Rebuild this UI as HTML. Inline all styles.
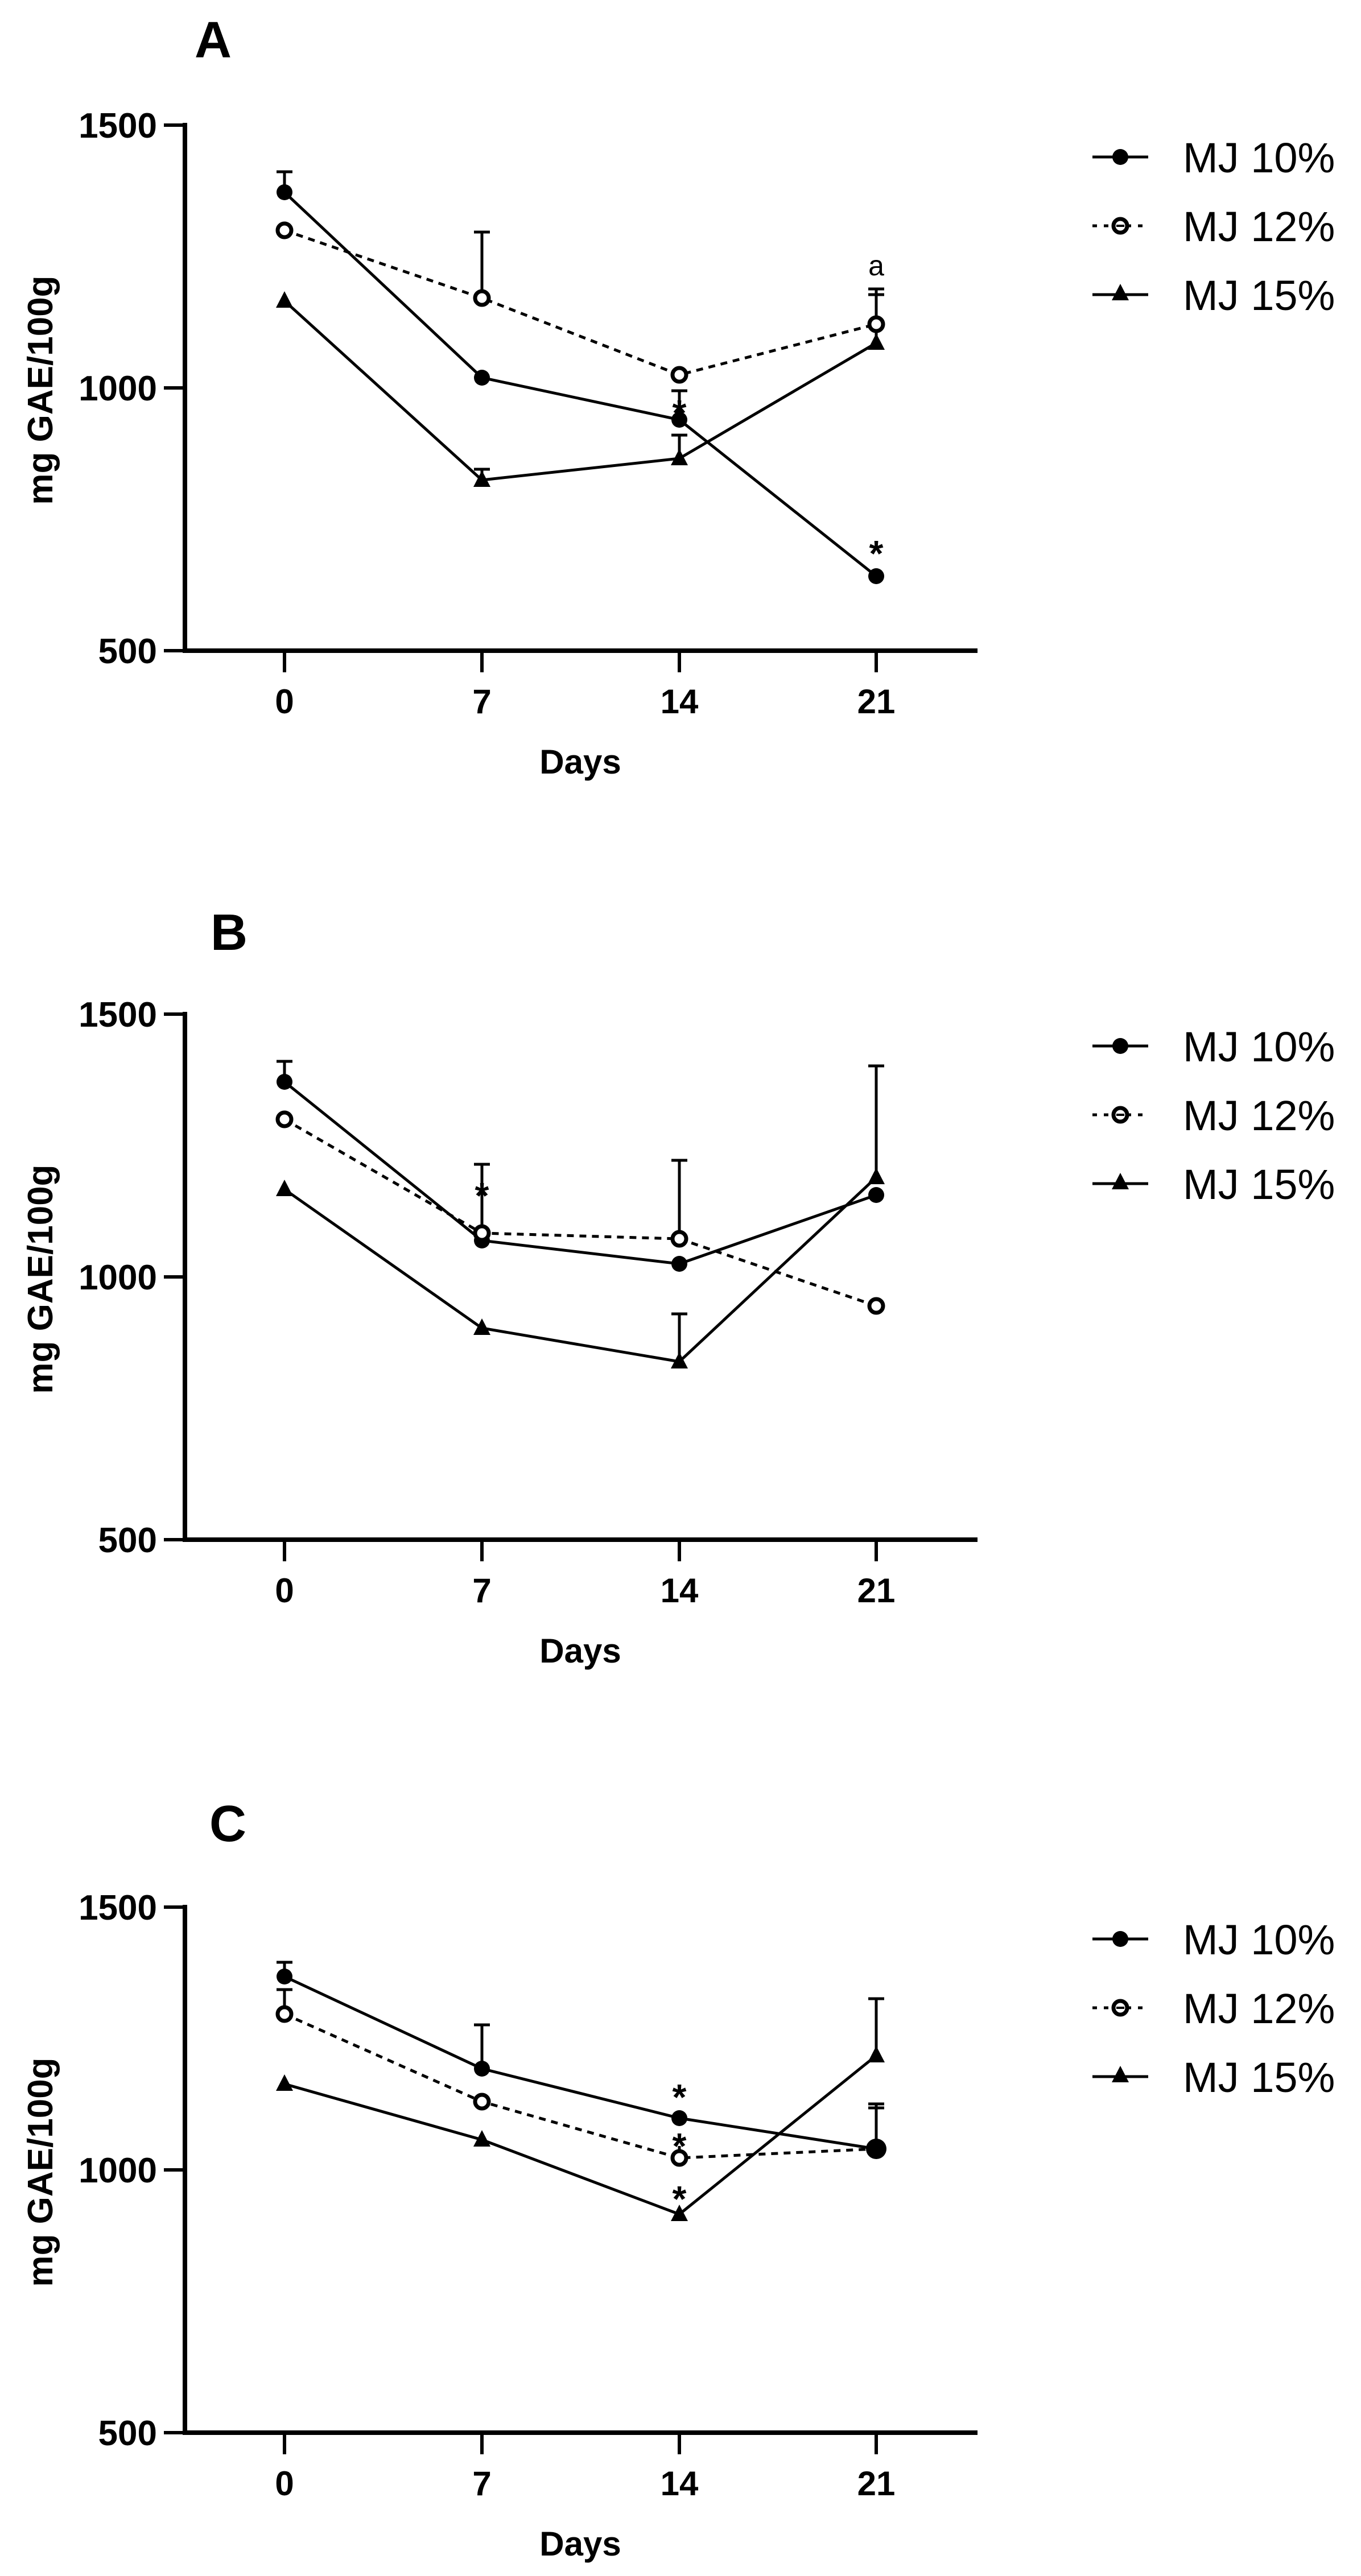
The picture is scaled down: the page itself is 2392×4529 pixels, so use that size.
<!DOCTYPE html>
<html><head><meta charset="utf-8"><style>html,body{margin:0;padding:0;background:#fff}svg{display:block}</style></head>
<body>
<svg xmlns="http://www.w3.org/2000/svg" width="2392" height="4529" viewBox="0 0 2392 4529">
<defs>
<g id="axes">
  <line x1="325" y1="216" x2="325" y2="1148" stroke="#000" stroke-width="8"/>
  <line x1="321" y1="1144" x2="1718" y2="1144" stroke="#000" stroke-width="8"/>
  <g stroke="#000" stroke-width="6">
    <line x1="288" y1="220" x2="325" y2="220"/>
    <line x1="288" y1="682" x2="325" y2="682"/>
    <line x1="288" y1="1144" x2="325" y2="1144"/>
    <line x1="500" y1="1144" x2="500" y2="1182"/>
    <line x1="847" y1="1144" x2="847" y2="1182"/>
    <line x1="1194" y1="1144" x2="1194" y2="1182"/>
    <line x1="1540" y1="1144" x2="1540" y2="1182"/>
  </g>
  <g font-family="Liberation Sans, Arial, sans-serif" font-weight="bold" font-size="62" text-anchor="end">
    <text x="276" y="242">1500</text>
    <text x="276" y="704">1000</text>
    <text x="276" y="1166">500</text>
  </g>
  <g font-family="Liberation Sans, Arial, sans-serif" font-weight="bold" font-size="60" text-anchor="middle">
    <text x="500" y="1254">0</text>
    <text x="847" y="1254">7</text>
    <text x="1194" y="1254">14</text>
    <text x="1540" y="1254">21</text>
    <text x="1020" y="1360">Days</text>
    <text transform="translate(92,686) rotate(-90)" font-size="62">mg GAE/100g</text>
  </g>
  <g font-family="Liberation Sans, Arial, sans-serif" font-size="74">
    <line x1="1920" y1="276" x2="2018" y2="276" stroke="#000" stroke-width="5"/>
    <circle cx="1969" cy="276" r="14"/>
    <text x="2079" y="303">MJ 10%</text>
    <line x1="1920" y1="397" x2="2018" y2="397" stroke="#000" stroke-width="5" stroke-dasharray="8,12"/>
    <circle cx="1969" cy="397" r="12" fill="#fff" stroke="#000" stroke-width="7"/>
    <line x1="1962" y1="397" x2="1976" y2="397" stroke="#000" stroke-width="4"/>
    <text x="2079" y="424">MJ 12%</text>
    <line x1="1920" y1="518" x2="2018" y2="518" stroke="#000" stroke-width="5"/>
    <polygon points="1969,499 1984,528 1954,528"/>
    <text x="2079" y="545">MJ 15%</text>
  </g>
</g>
</defs>

<g font-family="Liberation Sans, Arial, sans-serif" font-weight="bold" font-size="90">
  <text x="342" y="101">A</text>
  <text x="370" y="1670">B</text>
  <text x="368" y="3237">C</text>
</g>

<!-- Panel A -->
<g>
  <use href="#axes"/>
  <g stroke="#000" stroke-width="5" fill="none">
    <line x1="500" y1="338" x2="500" y2="302"/><line x1="486" y1="302" x2="514" y2="302"/>
    <line x1="847" y1="524" x2="847" y2="408"/><line x1="833" y1="408" x2="861" y2="408"/>
    <line x1="1194" y1="738" x2="1194" y2="687"/><line x1="1180" y1="687" x2="1208" y2="687"/>
    <line x1="1194" y1="806" x2="1194" y2="765"/><line x1="1180" y1="765" x2="1208" y2="765"/>
    <line x1="847" y1="844" x2="847" y2="825"/><line x1="833" y1="825" x2="861" y2="825"/>
    <line x1="1540" y1="603" x2="1540" y2="508"/><line x1="1526" y1="508" x2="1554" y2="508"/><line x1="1526" y1="518" x2="1554" y2="518"/>
    <polyline points="500,338 847,664 1194,738 1540,1013"/>
    <polyline points="500,405 847,524 1194,659 1540,570" stroke-dasharray="12,10"/>
    <polyline points="500,529 847,844 1194,806 1540,603"/>
  </g>
  <circle cx="500" cy="338" r="14"/><circle cx="847" cy="664" r="14"/><circle cx="1194" cy="738" r="14"/><circle cx="1540" cy="1013" r="14"/>
  <g fill="#fff" stroke="#000" stroke-width="7">
    <circle cx="500" cy="405" r="12"/><circle cx="847" cy="524" r="12"/><circle cx="1194" cy="659" r="12"/><circle cx="1540" cy="570" r="12"/>
  </g>
  <polygon points="500,512 515,541 485,541"/><polygon points="847,827 862,856 832,856"/><polygon points="1194,789 1209,818 1179,818"/><polygon points="1540,586 1555,615 1525,615"/>
  <g font-family="Liberation Sans, Arial, sans-serif" font-size="64" font-weight="bold" text-anchor="middle">
    <text x="1194" y="748">*</text>
    <text x="1540" y="995">*</text>
    <text x="1540" y="484" font-size="50" font-weight="normal">a</text>
  </g>
</g>

<!-- Panel B -->
<g transform="translate(0,1563)">
  <use href="#axes"/>
  <g stroke="#000" stroke-width="5" fill="none">
    <line x1="500" y1="339" x2="500" y2="303"/><line x1="486" y1="303" x2="514" y2="303"/>
    <line x1="847" y1="605" x2="847" y2="484"/><line x1="833" y1="484" x2="861" y2="484"/>
    <line x1="1194" y1="615" x2="1194" y2="477"/><line x1="1180" y1="477" x2="1208" y2="477"/>
    <line x1="1194" y1="831" x2="1194" y2="747"/><line x1="1180" y1="747" x2="1208" y2="747"/>
    <line x1="1540" y1="507" x2="1540" y2="311"/><line x1="1526" y1="311" x2="1554" y2="311"/>
    <polyline points="500,339 847,618 1194,659 1540,538"/>
    <polyline points="500,405 847,605 1194,615 1540,733" stroke-dasharray="12,10"/>
    <polyline points="500,528 847,772 1194,831 1540,507"/>
  </g>
  <circle cx="500" cy="339" r="14"/><circle cx="847" cy="618" r="14"/><circle cx="1194" cy="659" r="14"/><circle cx="1540" cy="538" r="14"/>
  <g fill="#fff" stroke="#000" stroke-width="7">
    <circle cx="500" cy="405" r="12"/><circle cx="847" cy="605" r="12"/><circle cx="1194" cy="615" r="12"/><circle cx="1540" cy="733" r="12"/>
  </g>
  <polygon points="500,511 515,540 485,540"/><polygon points="847,755 862,784 832,784"/><polygon points="1194,814 1209,843 1179,843"/><polygon points="1540,490 1555,519 1525,519"/>
  <g font-family="Liberation Sans, Arial, sans-serif" font-size="64" font-weight="bold" text-anchor="middle">
    <text x="847" y="561">*</text>
  </g>
</g>

<!-- Panel C -->
<g transform="translate(0,3133)">
  <use href="#axes"/>
  <g stroke="#000" stroke-width="5" fill="none">
    <line x1="500" y1="342" x2="500" y2="317"/><line x1="486" y1="317" x2="514" y2="317"/>
    <line x1="500" y1="408" x2="500" y2="365"/><line x1="486" y1="365" x2="514" y2="365"/>
    <line x1="847" y1="504" x2="847" y2="427"/><line x1="833" y1="427" x2="861" y2="427"/>
    <line x1="1540" y1="645" x2="1540" y2="566"/><line x1="1526" y1="566" x2="1554" y2="566"/><line x1="1526" y1="573" x2="1554" y2="573"/>
    <line x1="1540" y1="481" x2="1540" y2="381"/><line x1="1526" y1="381" x2="1554" y2="381"/>
    <line x1="1194" y1="661" x2="1194" y2="640"/>
    <polyline points="500,342 847,504 1194,591 1540,645"/>
    <polyline points="500,408 847,562 1194,661 1540,645" stroke-dasharray="12,10"/>
    <polyline points="500,531 847,629 1194,760 1540,481"/>
  </g>
  <circle cx="500" cy="342" r="14"/><circle cx="847" cy="504" r="14"/><circle cx="1194" cy="591" r="14"/><circle cx="1540" cy="645" r="18"/>
  <g fill="#fff" stroke="#000" stroke-width="7">
    <circle cx="500" cy="408" r="12"/><circle cx="847" cy="562" r="12"/><circle cx="1194" cy="661" r="12"/>
  </g>
  <polygon points="500,514 515,543 485,543"/><polygon points="847,612 862,641 832,641"/><polygon points="1194,743 1209,772 1179,772"/><polygon points="1540,464 1555,493 1525,493"/>
  <g font-family="Liberation Sans, Arial, sans-serif" font-size="64" font-weight="bold" text-anchor="middle">
    <text x="1194" y="576">*</text>
    <text x="1194" y="662">*</text>
    <text x="1194" y="755">*</text>
  </g>
</g>
</svg>
</body></html>
